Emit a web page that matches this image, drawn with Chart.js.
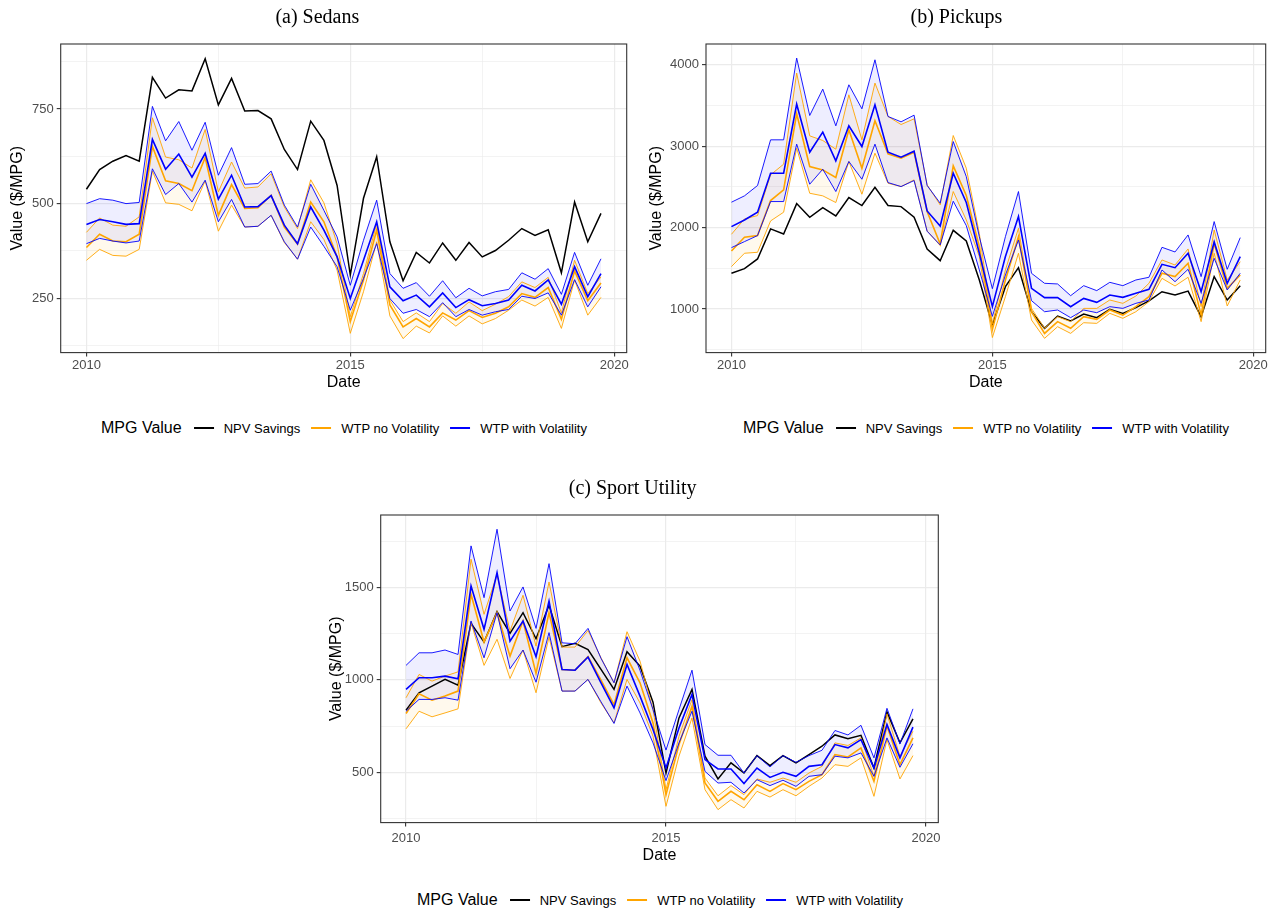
<!DOCTYPE html>
<html>
<head>
<meta charset="utf-8">
<script src="https://cdn.jsdelivr.net/npm/chart.js@4"></script>
<style>
body { margin: 0; background: #fff; width: 1277px; height: 913px; position: relative; overflow: hidden; font-family: "Liberation Sans", Arial, sans-serif; }
canvas { position: absolute; }
.legend { position: absolute; display: flex; align-items: center; transform: translate(-50%, -50%); white-space: nowrap; font-size: 13px; color: #000; }
.legend .ttl { font-size: 16px; margin-right: 12px; }
.legend .sw { display: inline-block; width: 20px; height: 0; border-top: 2px solid; margin-right: 10px; }
.legend .lab { margin-right: 11px; }
</style>
</head>
<body>
<canvas id="sedans" width="638" height="400" style="left:0;top:0"></canvas>
<canvas id="pickups" width="638" height="400" style="left:639px;top:0"></canvas>
<canvas id="suv" width="638" height="402" style="left:319px;top:471px"></canvas>

<div class="legend" style="left:344px;top:428px"><span class="ttl">MPG Value</span><span class="sw" style="border-color:#000"></span><span class="lab">NPV Savings</span><span class="sw" style="border-color:orange"></span><span class="lab">WTP no Volatility</span><span class="sw" style="border-color:blue"></span><span>WTP with Volatility</span></div>
<div class="legend" style="left:986px;top:428px"><span class="ttl">MPG Value</span><span class="sw" style="border-color:#000"></span><span class="lab">NPV Savings</span><span class="sw" style="border-color:orange"></span><span class="lab">WTP no Volatility</span><span class="sw" style="border-color:blue"></span><span>WTP with Volatility</span></div>
<div class="legend" style="left:660px;top:900px"><span class="ttl">MPG Value</span><span class="sw" style="border-color:#000"></span><span class="lab">NPV Savings</span><span class="sw" style="border-color:orange"></span><span class="lab">WTP no Volatility</span><span class="sw" style="border-color:blue"></span><span>WTP with Volatility</span></div>

<script>
// quarterly dates 2010 Q1 .. 2019 Q4
const dates = [2010, 2010.25, 2010.5, 2010.75, 2011, 2011.25, 2011.5, 2011.75, 2012, 2012.25,
  2012.5, 2012.75, 2013, 2013.25, 2013.5, 2013.75, 2014, 2014.25, 2014.5, 2014.75,
  2015, 2015.25, 2015.5, 2015.75, 2016, 2016.25, 2016.5, 2016.75, 2017, 2017.25,
  2017.5, 2017.75, 2018, 2018.25, 2018.5, 2018.75, 2019, 2019.25, 2019.5, 2019.75];
const xTicks = [2010, 2012.5, 2015, 2017.5, 2020];
const xLabels = [2010, 2015, 2020];

// (a) Sedans
const sedNpv = [538,590,612,627,612,834,779,801,798,883,761,831,745,746,724,643,590,718,667,548,311,514,624,399,296,371,343,396,350,397,359,376,403,434,416,431,317,504,399,474];
const sedVol = [445,458,452,445,447,670,591,631,570,633,512,575,491,492,521,443,394,491,430,359,249,350,452,280,243,258,227,264,225,246,230,236,245,284,269,298,234,333,254,315];
const sedVolHi = [500,513,509,500,503,757,666,717,641,715,575,648,551,553,586,496,438,551,482,412,284,403,509,315,276,291,255,296,251,276,256,267,273,317,300,328,260,371,284,354];
const sedVolLo = [394,408,401,396,401,592,524,553,504,562,452,511,438,440,469,399,353,438,387,333,218,302,394,249,210,220,201,238,201,220,205,214,220,255,249,264,205,299,227,280];
const sedNoVol = [384,419,401,399,419,651,560,553,534,622,469,550,487,489,522,438,393,504,452,359,188,298,430,232,174,196,174,211,192,217,199,210,227,262,252,278,194,322,243,290];
const sedNoVolHi = [424,462,443,440,465,727,623,616,594,696,531,610,541,544,579,491,434,563,502,394,201,315,447,245,188,211,188,236,210,240,217,234,254,293,278,305,211,350,262,306];
const sedNoVolLo = [350,379,363,361,379,586,502,498,481,560,427,496,438,440,469,397,353,452,405,324,157,267,399,203,143,176,158,203,176,203,182,196,218,245,229,252,170,298,205,252];
const sedTicks = [125, 250, 375, 500, 625, 750, 875];
const sedLabels = [250, 500, 750];

// (b) Pickups
const pkNpv = [1439,1496,1615,1984,1922,2295,2127,2246,2144,2369,2271,2496,2271,2258,2127,1738,1594,1967,1836,1357,804,1275,1508,967,763,914,853,939,894,996,947,1017,1099,1213,1172,1221,906,1398,1111,1287];
const pkVol = [2012,2094,2189,2668,2668,3516,2926,3172,2820,3250,2996,3508,2926,2865,2939,2205,2020,2668,2308,1685,1030,1644,2135,1254,1140,1140,1029,1131,1082,1172,1144,1193,1242,1549,1508,1685,1213,1824,1316,1644];
const pkVolHi = [2312,2390,2517,3078,3078,4082,3377,3701,3250,3754,3459,4061,3365,3299,3381,2517,2300,3057,2627,1889,1250,1889,2443,1439,1316,1308,1164,1287,1226,1328,1287,1357,1390,1758,1701,1910,1398,2074,1488,1877];
const pkVolLo = [1754,1828,1902,2320,2320,3025,2533,2717,2443,2812,2594,3025,2553,2504,2578,1955,1787,2324,2025,1480,910,1418,1848,1103,967,988,894,988,955,1029,1008,1070,1111,1480,1336,1488,1070,1623,1234,1439];
const pkNoVol = [1713,1881,1902,2332,2463,3398,2750,2709,2615,3201,2730,3312,2906,2853,2926,2197,1799,2758,2394,1767,750,1357,1889,967,701,845,763,906,873,988,926,1029,1152,1439,1398,1562,926,1808,1254,1418];
const pkNoVolHi = [1918,2107,2148,2648,2779,3898,3127,3070,2963,3631,3078,3775,3365,3266,3336,2525,2279,3131,2730,1930,820,1480,1992,1008,763,906,845,1008,1008,1111,1070,1160,1316,1603,1541,1738,1029,1971,1357,1582];
const pkNoVolLo = [1521,1685,1697,2082,2189,2976,2422,2390,2308,2812,2410,2914,2545,2504,2586,1959,1780,2443,2094,1644,650,1152,1685,865,640,783,701,832,824,947,886,967,1090,1377,1283,1390,845,1685,1037,1357];
const pkTicks = [500, 1000, 1500, 2000, 2500, 3000, 3500, 4000];
const pkLabels = [1000, 2000, 3000, 4000];

// (c) Sport Utility
const suvNpv = [836,930,966,1002,971,1305,1204,1368,1251,1363,1222,1403,1179,1197,1164,1056,948,1152,1074,879,496,794,948,587,464,551,496,590,536,590,551,596,641,702,681,700,523,826,659,789];
const suvVol = [948,1011,1011,1020,1005,1507,1273,1579,1209,1318,1125,1426,1056,1052,1123,984,848,1083,912,731,523,740,921,569,518,518,439,523,472,500,478,532,541,650,632,677,523,758,578,744];
const suvVolHi = [1078,1146,1146,1161,1137,1724,1444,1814,1372,1502,1278,1628,1200,1195,1278,1116,984,1233,1051,839,620,839,1052,650,592,592,496,590,529,590,554,590,619,726,702,754,578,846,654,843];
const suvVolLo = [830,894,894,903,890,1318,1119,1363,1060,1161,987,1255,939,939,1002,881,764,966,821,659,455,659,830,505,442,446,388,460,428,457,424,478,487,587,578,605,478,686,527,654];
const suvNoVol = [818,924,890,912,939,1462,1204,1363,1128,1318,1034,1363,1056,1052,1125,998,866,1119,984,767,379,650,857,442,343,397,352,433,397,439,406,451,487,596,583,632,451,752,541,686];
const suvNoVolHi = [903,1029,993,1020,1043,1652,1354,1570,1264,1457,1182,1529,1177,1177,1267,1119,984,1260,1101,839,406,695,893,469,373,428,379,464,446,469,446,496,532,659,645,686,478,816,587,722];
const suvNoVolLo = [735,830,800,821,843,1309,1078,1219,1007,1161,930,1231,939,939,1002,875,767,1002,875,695,316,587,794,406,298,352,307,397,366,406,373,424,469,541,532,578,370,677,464,590];
const suvTicks = [250, 500, 750, 1000, 1250, 1500, 1750];
const suvLabels = [500, 1000, 1500];

const BLUE = '#0000ff', ORANGE = '#ffa500';
const tickFont = { family: 'Liberation Sans', size: 13 };
const titleFont = { family: 'Liberation Sans', size: 16 };

// panel frame like theme_bw
const frame = {
  id: 'frame',
  afterDraw(chart) {
    const { ctx, chartArea: a } = chart;
    ctx.save();
    ctx.strokeStyle = '#333';
    ctx.lineWidth = 1.1;
    ctx.strokeRect(a.left, a.top, a.right - a.left, a.bottom - a.top);
    ctx.restore();
  }
};

function line(vals, color, width, fill, bg) {
  return {
    data: dates.map((x, i) => ({ x: x, y: vals[i] })),
    borderColor: color,
    borderWidth: width,
    pointRadius: 0,
    tension: 0,
    fill: fill || false,
    backgroundColor: bg || 'transparent'
  };
}

function gridFor(major) {
  return {
    color: '#ebebeb',
    lineWidth: c => (c.tick && major.includes(c.tick.value)) ? 1.2 : 0.6,
    tickColor: c => (c.tick && major.includes(c.tick.value)) ? '#333' : 'rgba(0,0,0,0)',
    tickWidth: 1.1,
    tickLength: 4
  };
}

function makePanel(id, title, s, yTicks, yLabels, yMin, yMax, yWidth, padRight, xHeight, xPad) {
  new Chart(document.getElementById(id), {
    type: 'line',
    data: {
      datasets: [
        line(s.vol, BLUE, 1.6),
        line(s.volHi, BLUE, 0.9, '+1', 'rgba(0,0,255,0.065)'),
        line(s.volLo, BLUE, 0.9),
        line(s.noVol, ORANGE, 1.6),
        line(s.noVolHi, ORANGE, 0.9, '+1', 'rgba(255,165,0,0.07)'),
        line(s.noVolLo, ORANGE, 0.9),
        line(s.npv, '#000', 1.5)
      ]
    },
    options: {
      responsive: false,
      animation: false,
      events: [],
      layout: { padding: { left: 8, right: padRight, top: 0, bottom: 0 } },
      plugins: {
        legend: { display: false },
        tooltip: { enabled: false },
        filler: { drawTime: 'beforeDatasetsDraw' },
        title: {
          display: true,
          text: title,
          color: '#000',
          font: { family: 'Liberation Serif', size: 20, weight: 'normal' },
          padding: { top: 6, bottom: 14 }
        }
      },
      scales: {
        x: {
          type: 'linear',
          min: 2009.5125,
          max: 2020.2375,
          afterBuildTicks: sc => { sc.ticks = xTicks.map(v => ({ value: v })); },
          afterFit: sc => { sc.height = xHeight; },
          ticks: {
            autoSkip: false,
            maxRotation: 0,
            padding: xPad,
            color: '#4d4d4d',
            font: tickFont,
            callback: v => xLabels.includes(v) ? String(v) : ''
          },
          grid: gridFor(xLabels),
          border: { display: false },
          title: { display: true, text: 'Date', color: '#000', font: titleFont, padding: { top: 0, bottom: 8 } }
        },
        y: {
          type: 'linear',
          min: yMin,
          max: yMax,
          afterBuildTicks: sc => { sc.ticks = yTicks.map(v => ({ value: v })); },
          afterFit: sc => { sc.width = yWidth; },
          ticks: {
            autoSkip: false,
            padding: 3,
            color: '#4d4d4d',
            font: tickFont,
            callback: v => yLabels.includes(v) ? String(v) : ''
          },
          grid: gridFor(yLabels),
          border: { display: false },
          title: { display: true, text: 'Value ($/MPG)', color: '#000', font: titleFont, padding: { top: 0, bottom: 0 } }
        }
      }
    },
    plugins: [frame]
  });
}

makePanel('sedans', '(a) Sedans',
  { npv: sedNpv, vol: sedVol, volHi: sedVolHi, volLo: sedVolLo, noVol: sedNoVol, noVolHi: sedNoVolHi, noVolLo: sedNoVolLo },
  sedTicks, sedLabels, 106, 922, 52.7, 11.3, 47.4, 1.5);

makePanel('pickups', '(b) Pickups',
  { npv: pkNpv, vol: pkVol, volHi: pkVolHi, volLo: pkVolLo, noVol: pkNoVol, noVolHi: pkNoVolHi, noVolLo: pkNoVolLo },
  pkTicks, pkLabels, 465, 4255, 59, 11.3, 47.4, 1.5);

makePanel('suv', '(c) Sport Utility',
  { npv: suvNpv, vol: suvVol, volHi: suvVolHi, volLo: suvVolLo, noVol: suvNoVol, noVolHi: suvNoVolHi, noVolLo: suvNoVolLo },
  suvTicks, suvLabels, 228, 1891, 53.7, 18.7, 50.4, 4);
</script>
</body>
</html>
